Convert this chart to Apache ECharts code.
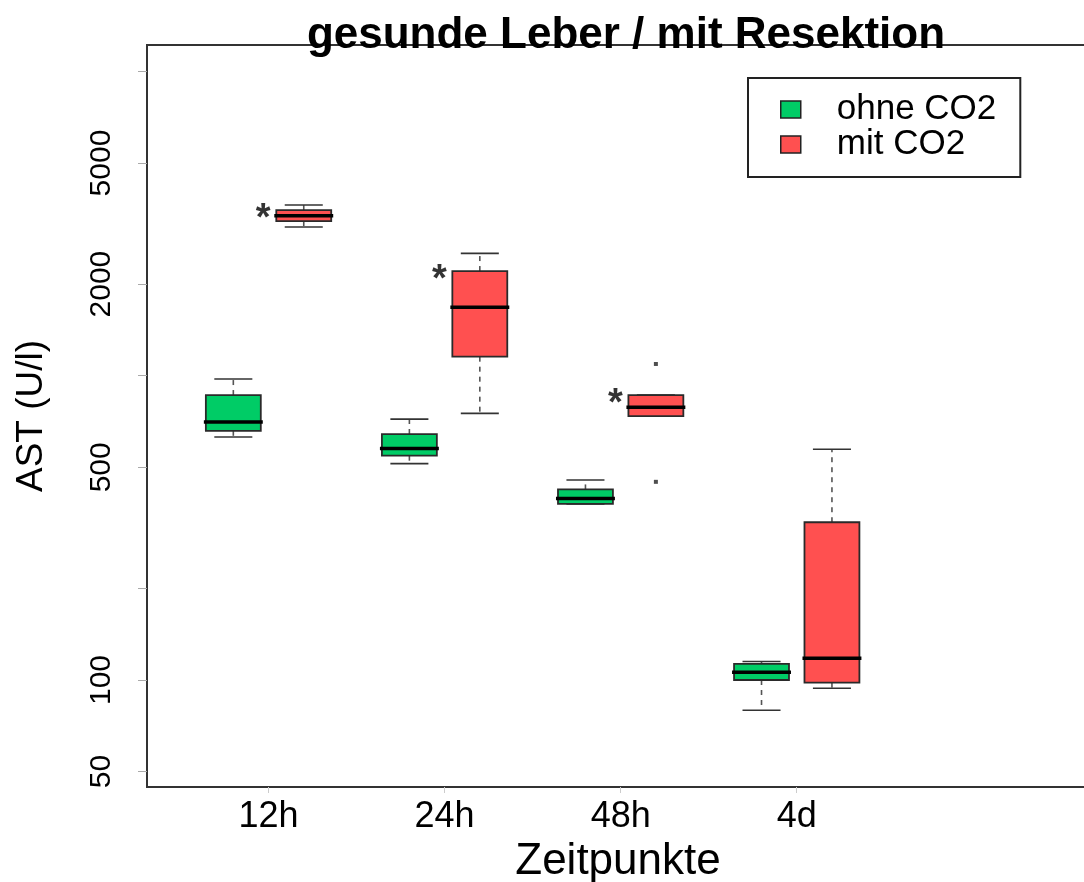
<!DOCTYPE html>
<html>
<head>
<meta charset="utf-8">
<script src="https://cdn.jsdelivr.net/npm/echarts@6/dist/echarts.min.js"></script>
<style>
  html, body { margin: 0; padding: 0; background: #fff; }
  #main { width: 1084px; height: 882px; }
</style>
</head>
<body>
<div id="main"></div>
<script>
// categories on the x axis
var categories = ['12h', '24h', '48h', '4d'];
var groupNames = ['ohne CO2', 'mit CO2'];
// box stats per time point: [min, Q1, median, Q3, max]
var ohneCO2 = [
  [629, 659, 704, 864, 975],
  [514, 546, 577, 643, 720],
  [379, 379, 395, 423, 454],
  [79.5, 100, 106, 113, 115]
];
var mitCO2 = [
  [3082, 3224, 3356, 3503, 3639],
  [752, 1155, 1678, 2208, 2524],
  [737, 737, 788, 864, 864],
  [94, 98, 118, 330, 573]
];
// outliers of mit CO2: [category index, value]
var mitCO2Outliers = [[2, 1093], [2, 448]];
// significance stars: [category index, value]
var stars = [[0, 3503], [1, 2208], [2, 864]];
var yTicks = [50, 100, 200, 500, 1000, 2000, 5000, 10000];
var yLabels = [50, 100, 500, 2000, 5000];

var shift = 0.2; // offset of each group from the category centre

function toSeriesData(stats, off) {
  return stats.map(function (d, i) { return [i + 1 + off].concat(d); });
}

function renderBox(params, api) {
  var x = api.value(0);
  var half = 0.156, capHalf = 0.108;
  var yMin = api.coord([x, api.value(1)])[1];
  var yQ1 = api.coord([x, api.value(2)])[1];
  var yMed = api.coord([x, api.value(3)])[1];
  var yQ3 = api.coord([x, api.value(4)])[1];
  var yMax = api.coord([x, api.value(5)])[1];
  var cx = api.coord([x, api.value(3)])[0];
  var l = api.coord([x - half, api.value(3)])[0];
  var r = api.coord([x + half, api.value(3)])[0];
  var cl = api.coord([x - capHalf, api.value(3)])[0];
  var cr = api.coord([x + capHalf, api.value(3)])[0];
  var dash = { stroke: '#555', lineWidth: 1.6, lineDash: [5, 5] };
  var solid = { stroke: '#333', lineWidth: 1.6 };
  return {
    type: 'group',
    children: [
      { type: 'line', shape: { x1: cx, y1: yQ3, x2: cx, y2: yMax }, style: dash },
      { type: 'line', shape: { x1: cx, y1: yQ1, x2: cx, y2: yMin }, style: dash },
      { type: 'line', shape: { x1: cl, y1: yMax, x2: cr, y2: yMax }, style: solid },
      { type: 'line', shape: { x1: cl, y1: yMin, x2: cr, y2: yMin }, style: solid },
      { type: 'rect', shape: { x: l, y: yQ3, width: r - l, height: yQ1 - yQ3 },
        style: { fill: api.visual('color'), stroke: '#2a2a2a', lineWidth: 1.8 } },
      { type: 'line', shape: { x1: l - 2, y1: yMed, x2: r + 2, y2: yMed }, style: { stroke: '#000', lineWidth: 3.5 } }
    ]
  };
}

var chart = echarts.init(document.getElementById('main'));
chart.setOption({
  animation: false,
  textStyle: { fontFamily: 'Liberation Sans' },
  title: {
    text: 'gesunde Leber / mit Resektion',
    left: 621, top: 9, textAlign: 'center',
    textStyle: { fontSize: 44, fontWeight: 'bold', color: '#000' }
  },
  legend: {
    data: groupNames, orient: 'vertical', left: 748, top: 78,
    icon: 'rect', itemWidth: 20, itemHeight: 17, itemGap: 0,
    padding: [14, 24, 15, 32],
    borderColor: '#222', borderWidth: 2,
    textStyle: { fontSize: 35, color: '#000', padding: [0, 0, 0, 31] },
    itemStyle: { borderColor: '#222', borderWidth: 1.5 }
  },
  grid: {
    left: 147, right: -5, top: 45, bottom: 95, outerBoundsMode: 'none',
    show: true, borderColor: '#333', borderWidth: 2
  },
  xAxis: {
    type: 'value', min: 0.3097, max: 5.66,
    axisLine: { show: false },
    axisTick: { show: true, customValues: [1, 2, 3, 4], length: 6, lineStyle: { color: '#ccc' } },
    axisLabel: {
      customValues: [1, 2, 3, 4], fontSize: 36, color: '#000', margin: 12,
      formatter: function (v) { return categories[Math.round(v) - 1]; }
    },
    splitLine: { show: false },
    name: 'Zeitpunkte', nameLocation: 'middle', nameGap: 52,
    nameTextStyle: { fontSize: 44, color: '#000' }
  },
  yAxis: {
    type: 'log', logBase: 10, min: 44.5, max: 12215,
    axisLine: { show: false },
    axisTick: { show: true, customValues: yTicks, length: 9, lineStyle: { color: '#aaa' } },
    axisLabel: {
      customValues: yLabels, rotate: 90, fontSize: 30, color: '#000', margin: 30,
      formatter: function (v) { return String(Math.round(v)); }
    },
    splitLine: { show: false },
    name: 'AST (U/l)', nameLocation: 'middle', nameGap: 97, nameRotate: 90,
    nameTextStyle: { fontSize: 37, color: '#000' }
  },
  series: [
    {
      name: groupNames[0], type: 'custom', renderItem: renderBox,
      itemStyle: { color: '#00cc66' },
      encode: { x: 0, y: [1, 2, 3, 4, 5] },
      data: toSeriesData(ohneCO2, -shift)
    },
    {
      name: groupNames[1], type: 'custom', renderItem: renderBox,
      itemStyle: { color: '#ff5050' },
      encode: { x: 0, y: [1, 2, 3, 4, 5] },
      data: toSeriesData(mitCO2, shift)
    },
    {
      name: 'outliers', type: 'scatter', symbol: 'rect', symbolSize: 4,
      itemStyle: { color: '#222' },
      data: mitCO2Outliers.map(function (d) { return [d[0] + 1 + shift, d[1]]; })
    },
    {
      name: 'stars', type: 'scatter', symbolSize: 1,
      itemStyle: { color: 'transparent' },
      label: { show: true, position: 'inside', formatter: '*', fontSize: 38, fontWeight: 'bold', color: '#000', offset: [0, 9] },
      data: stars.map(function (d) { return [d[0] + 1 - 0.03, d[1]]; })
    }
  ]
});
</script>
</body>
</html>
